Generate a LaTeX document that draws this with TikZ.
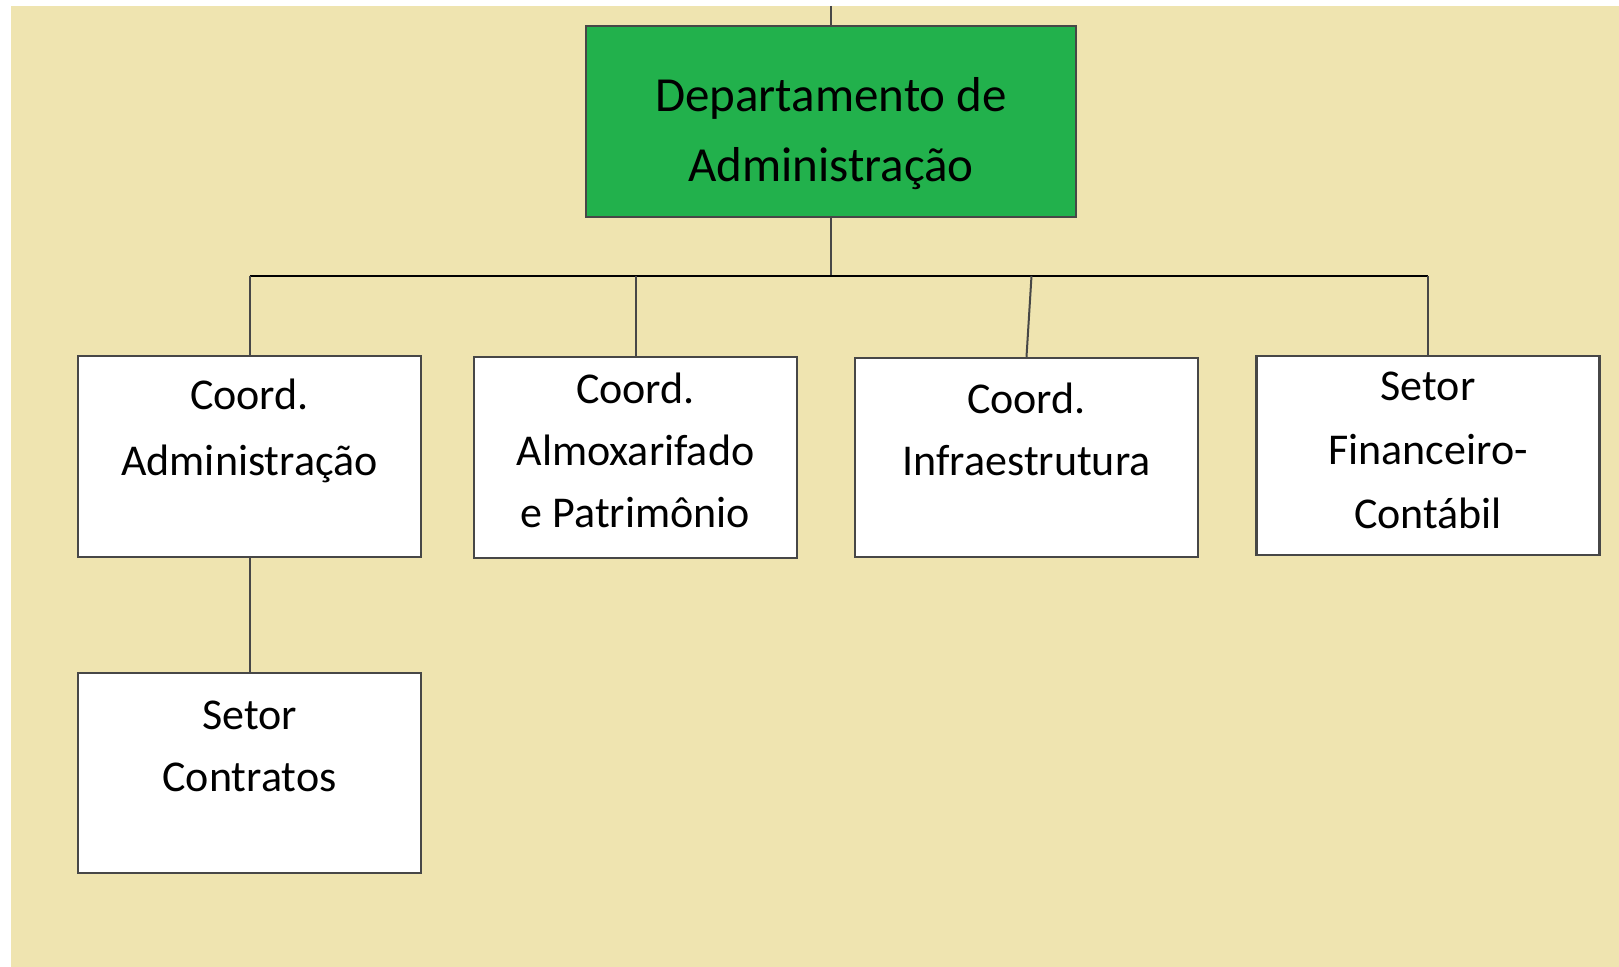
\documentclass[tikz,border=0pt]{standalone}
\usepackage{fontspec}
\setmainfont{Carlito}
\usetikzlibrary{positioning,calc}
\definecolor{paperTan}{RGB}{239,228,176}
\definecolor{deptGreen}{RGB}{34,177,76}
\tikzset{
  box/.style={draw=black!72,line width=1.2pt,fill=white,inner sep=0pt},
  txt/.style={align=center,anchor=north,inner sep=0pt,font=\fontsize{22}{31}\selectfont},
  link/.style={draw=black!72,line width=1pt},
  busline/.style={draw=black,line width=1pt}
}
\begin{document}
\begin{tikzpicture}[x=0.5pt,y=-0.5pt]
          \useasboundingbox (0,0) rectangle (1619,967);
          \fill[white] (0,0) rectangle (1619,967);
          \fill[paperTan] (11,6) rectangle (1619,967);

          % Draw the boxes
          \node[box,fill=deptGreen,minimum width=244.75pt,minimum height=95.5pt] (dep) at (831,121.5) {};
          \node[box,minimum width=171.5pt,minimum height=100.5pt] (adm) at (249.5,456.5) {};
          \node[box,minimum width=161.5pt,minimum height=100.5pt] (alm) at (635.5,457.5) {};
          \node[box,minimum width=171.5pt,minimum height=99.5pt] (inf) at (1026.5,457.5) {};
          \node[box,minimum width=171.5pt,minimum height=99.5pt] (fin) at (1428,455.5) {};
          \node[box,minimum width=171.5pt,minimum height=100pt] (ctr) at (249.5,773) {};

          % Draw the labels
          \node[txt,font=\fontsize{24.5}{35}\selectfont] (dep-t) at ([yshift=-26pt]dep.north) {Departamento de\\Administração};
          \node[txt,font=\fontsize{22}{33}\selectfont] (adm-t) at ([yshift=-12pt]adm.north) {Coord.\\Administração};
          \node[txt] (alm-t) at ([yshift=-8.5pt]alm.north) {Coord.\\Almoxarifado\\e Patrimônio};
          \node[txt] (inf-t) at ([yshift=-13pt]inf.north) {Coord.\\Infraestrutura};
          \node[txt,font=\fontsize{22}{32}\selectfont] (fin-t) at ([yshift=-8.5pt]fin.north) {Setor\\Financeiro-\\Contábil};
          \node[txt] (ctr-t) at ([yshift=-14.5pt]ctr.north) {Setor\\Contratos};

          % Draw the edges
          \coordinate (top) at (831,6);
          \coordinate (bus) at (831,276);
          \draw[link] (top) -- (dep.north);
          \draw[link] (dep.south) -- (bus);
          \draw[busline] (adm.north |- bus) -- (fin.north |- bus);
          \draw[link] (adm.north |- bus) -- (adm.north);
          \draw[link] (alm.north |- bus) -- (alm.north);
          \draw[link] ([xshift=2.5pt]inf.north |- bus) -- (inf.north);
          \draw[link] (fin.north |- bus) -- (fin.north);
          \draw[link] (adm.south) -- (ctr.north);

        \end{tikzpicture}
\end{document}
